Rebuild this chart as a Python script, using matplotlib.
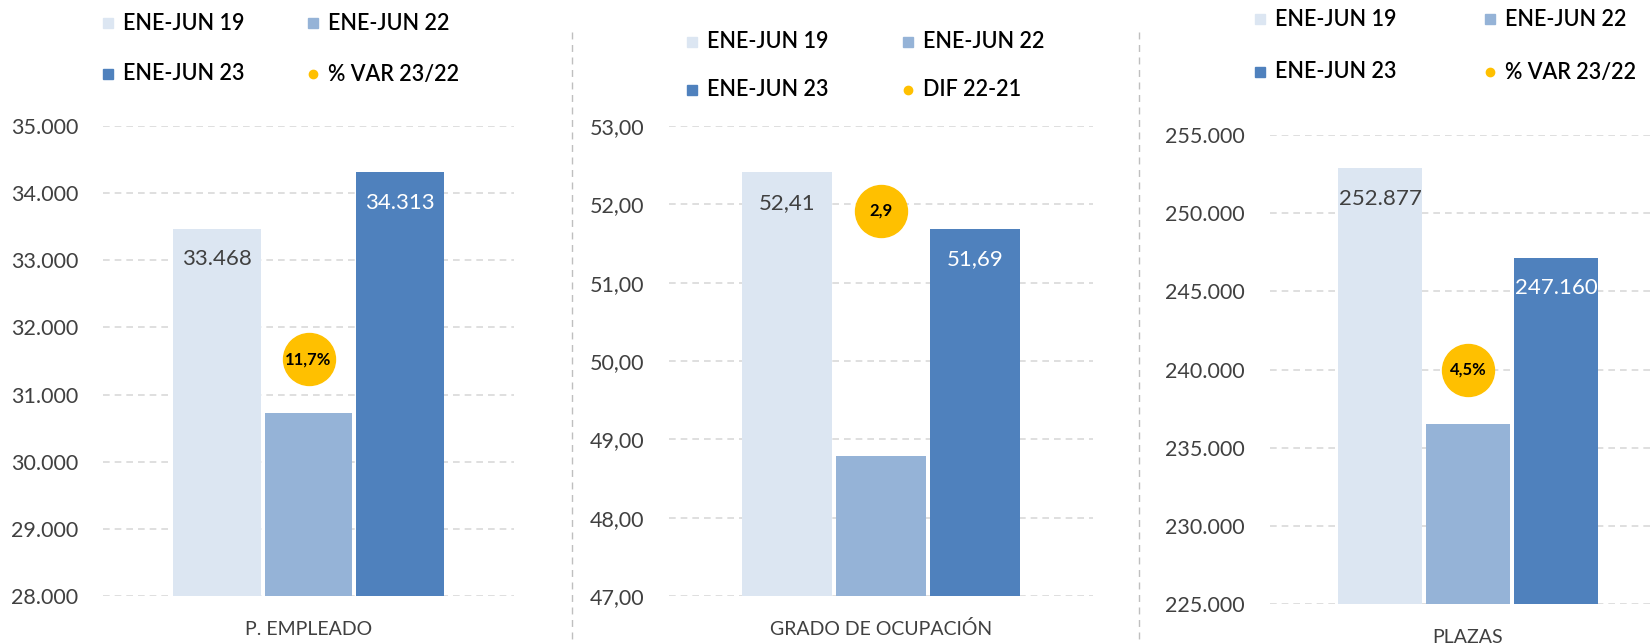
import matplotlib as mpl

mpl.use('agg')

import matplotlib.pyplot as plt
import matplotlib.transforms as mtransforms
from matplotlib.lines import Line2D
from matplotlib.ticker import FuncFormatter, MultipleLocator

plt.rcParams['font.family'] = ['Lato', 'DejaVu Sans']

# data
periods = ["ENE-JUN 19", "ENE-JUN 22", "ENE-JUN 23"]
titles = ["P. EMPLEADO", "GRADO DE OCUPACIÓN", "PLAZAS"]
empleado = [33468, 30719, 34313]
ocupacion = [52.41, 48.79, 51.69]
plazas = [252877, 236517, 247160]
bubble_vals = [11.7, 2.9, 4.5]
bubble_names = ["% VAR 23/22", "DIF 22-21", "% VAR 23/22"]

colors = ['#DCE6F2', '#95B3D7', '#4F81BD']
gold = '#FFC000'
grey_txt = '#404040'


def thousands(v, pos=None):
    return f"{v:,.0f}".replace(",", ".")


def decimals(v, pos=None):
    return f"{v:.2f}".replace(".", ",")


def pct(v):
    return f"{v:.1f}".replace(".", ",") + "%"


def plain(v):
    return f"{v:.1f}".replace(".", ",")


W, H = 1652, 644
fig = plt.figure(figsize=(W / 100, H / 100), dpi=100)

# panel boxes in pixels: left, right, top, bottom
boxes = [(103, 514, 126, 596), (669, 1093, 126, 596), (1270, 1666, 135, 604)]
limits = [(28000, 35000, 1000), (47, 53, 1), (225000, 255000, 5000)]
series = [empleado, ocupacion, plazas]
fmts = [thousands, decimals, thousands]
bub_fmts = [pct, plain, pct]
bub_y = [0.504, 0.82, 0.499]
# legend anchors: marker col1 x, col2 x, row1 y, row2 y
leg = [(108, 313, 23, 74), (692, 908, 42, 90), (1260, 1490, 19, 72)]

for i in range(3):
    l, r, t, b = boxes[i]
    ax = fig.add_axes([l / W, 1 - b / H, (r - l) / W, (b - t) / H])
    vals = series[i]
    x = list(range(len(vals)))
    ax.bar(x, vals, width=0.96, color=colors, zorder=2)
    lo, hi, step = limits[i]
    ax.set_ylim(lo, hi)
    ax.set_xlim(-1.25, 3.25)
    ax.yaxis.set_major_locator(MultipleLocator(step))
    ax.yaxis.set_major_formatter(FuncFormatter(fmts[i]))
    ax.set_xticks([])
    ax.tick_params(axis='y', length=0, pad=18, labelsize=15.5, labelcolor=grey_txt)
    for s in ax.spines.values():
        s.set_visible(False)
    ax.yaxis.grid(True, linestyle=(0, (4, 3)), color='#D9D9D9', linewidth=1.2, zorder=0)
    ax.set_axisbelow(True)

    # value labels on first and last bar
    for j, c in [(0, grey_txt), (2, 'white')]:
        ax.annotate(fmts[i](vals[j]), (x[j], vals[j]), xytext=(0, -22),
                    textcoords='offset points', ha='center', va='center',
                    fontsize=16, color=c, zorder=4)

    # bubble
    trans = mtransforms.blended_transform_factory(ax.transData, ax.transAxes)
    ax.scatter([1], [bub_y[i]], s=1400, color=gold, transform=trans, zorder=5,
               clip_on=False)
    ax.text(1, bub_y[i], bub_fmts[i](bubble_vals[i]), transform=trans,
            ha='center', va='center', fontsize=12, fontweight='bold',
            color='black', zorder=6)

    ax.annotate(titles[i], (0.5, 0), xycoords='axes fraction', xytext=(0, -24),
                textcoords='offset points', ha='center', va='center',
                fontsize=14, color=grey_txt)

    # legend
    c1, c2, r1, r2 = leg[i]
    items = [(c1, r1, 's', colors[0], periods[0]),
             (c2, r1, 's', colors[1], periods[1]),
             (c1, r2, 's', colors[2], periods[2]),
             (c2, r2, 'o', gold, bubble_names[i])]
    for mx, my, m, col, txt in items:
        fig.add_artist(Line2D([mx / W], [1 - my / H], marker=m,
                              markersize=7 if m == 's' else 6,
                              color=col, linestyle='none',
                              transform=fig.transFigure))
        fig.text((mx + 15) / W, 1 - my / H, txt, ha='left', va='center',
                 fontsize=15.5, fontweight='semibold', color='black')

# dashed separators
for sx in [572, 1139]:
    fig.add_artist(Line2D([sx / W, sx / W], [1 - 32 / H, 0], color='#BFBFBF',
                          linestyle=(0, (5, 4)), linewidth=1,
                          transform=fig.transFigure))

fig.savefig('out.png', dpi=100)
